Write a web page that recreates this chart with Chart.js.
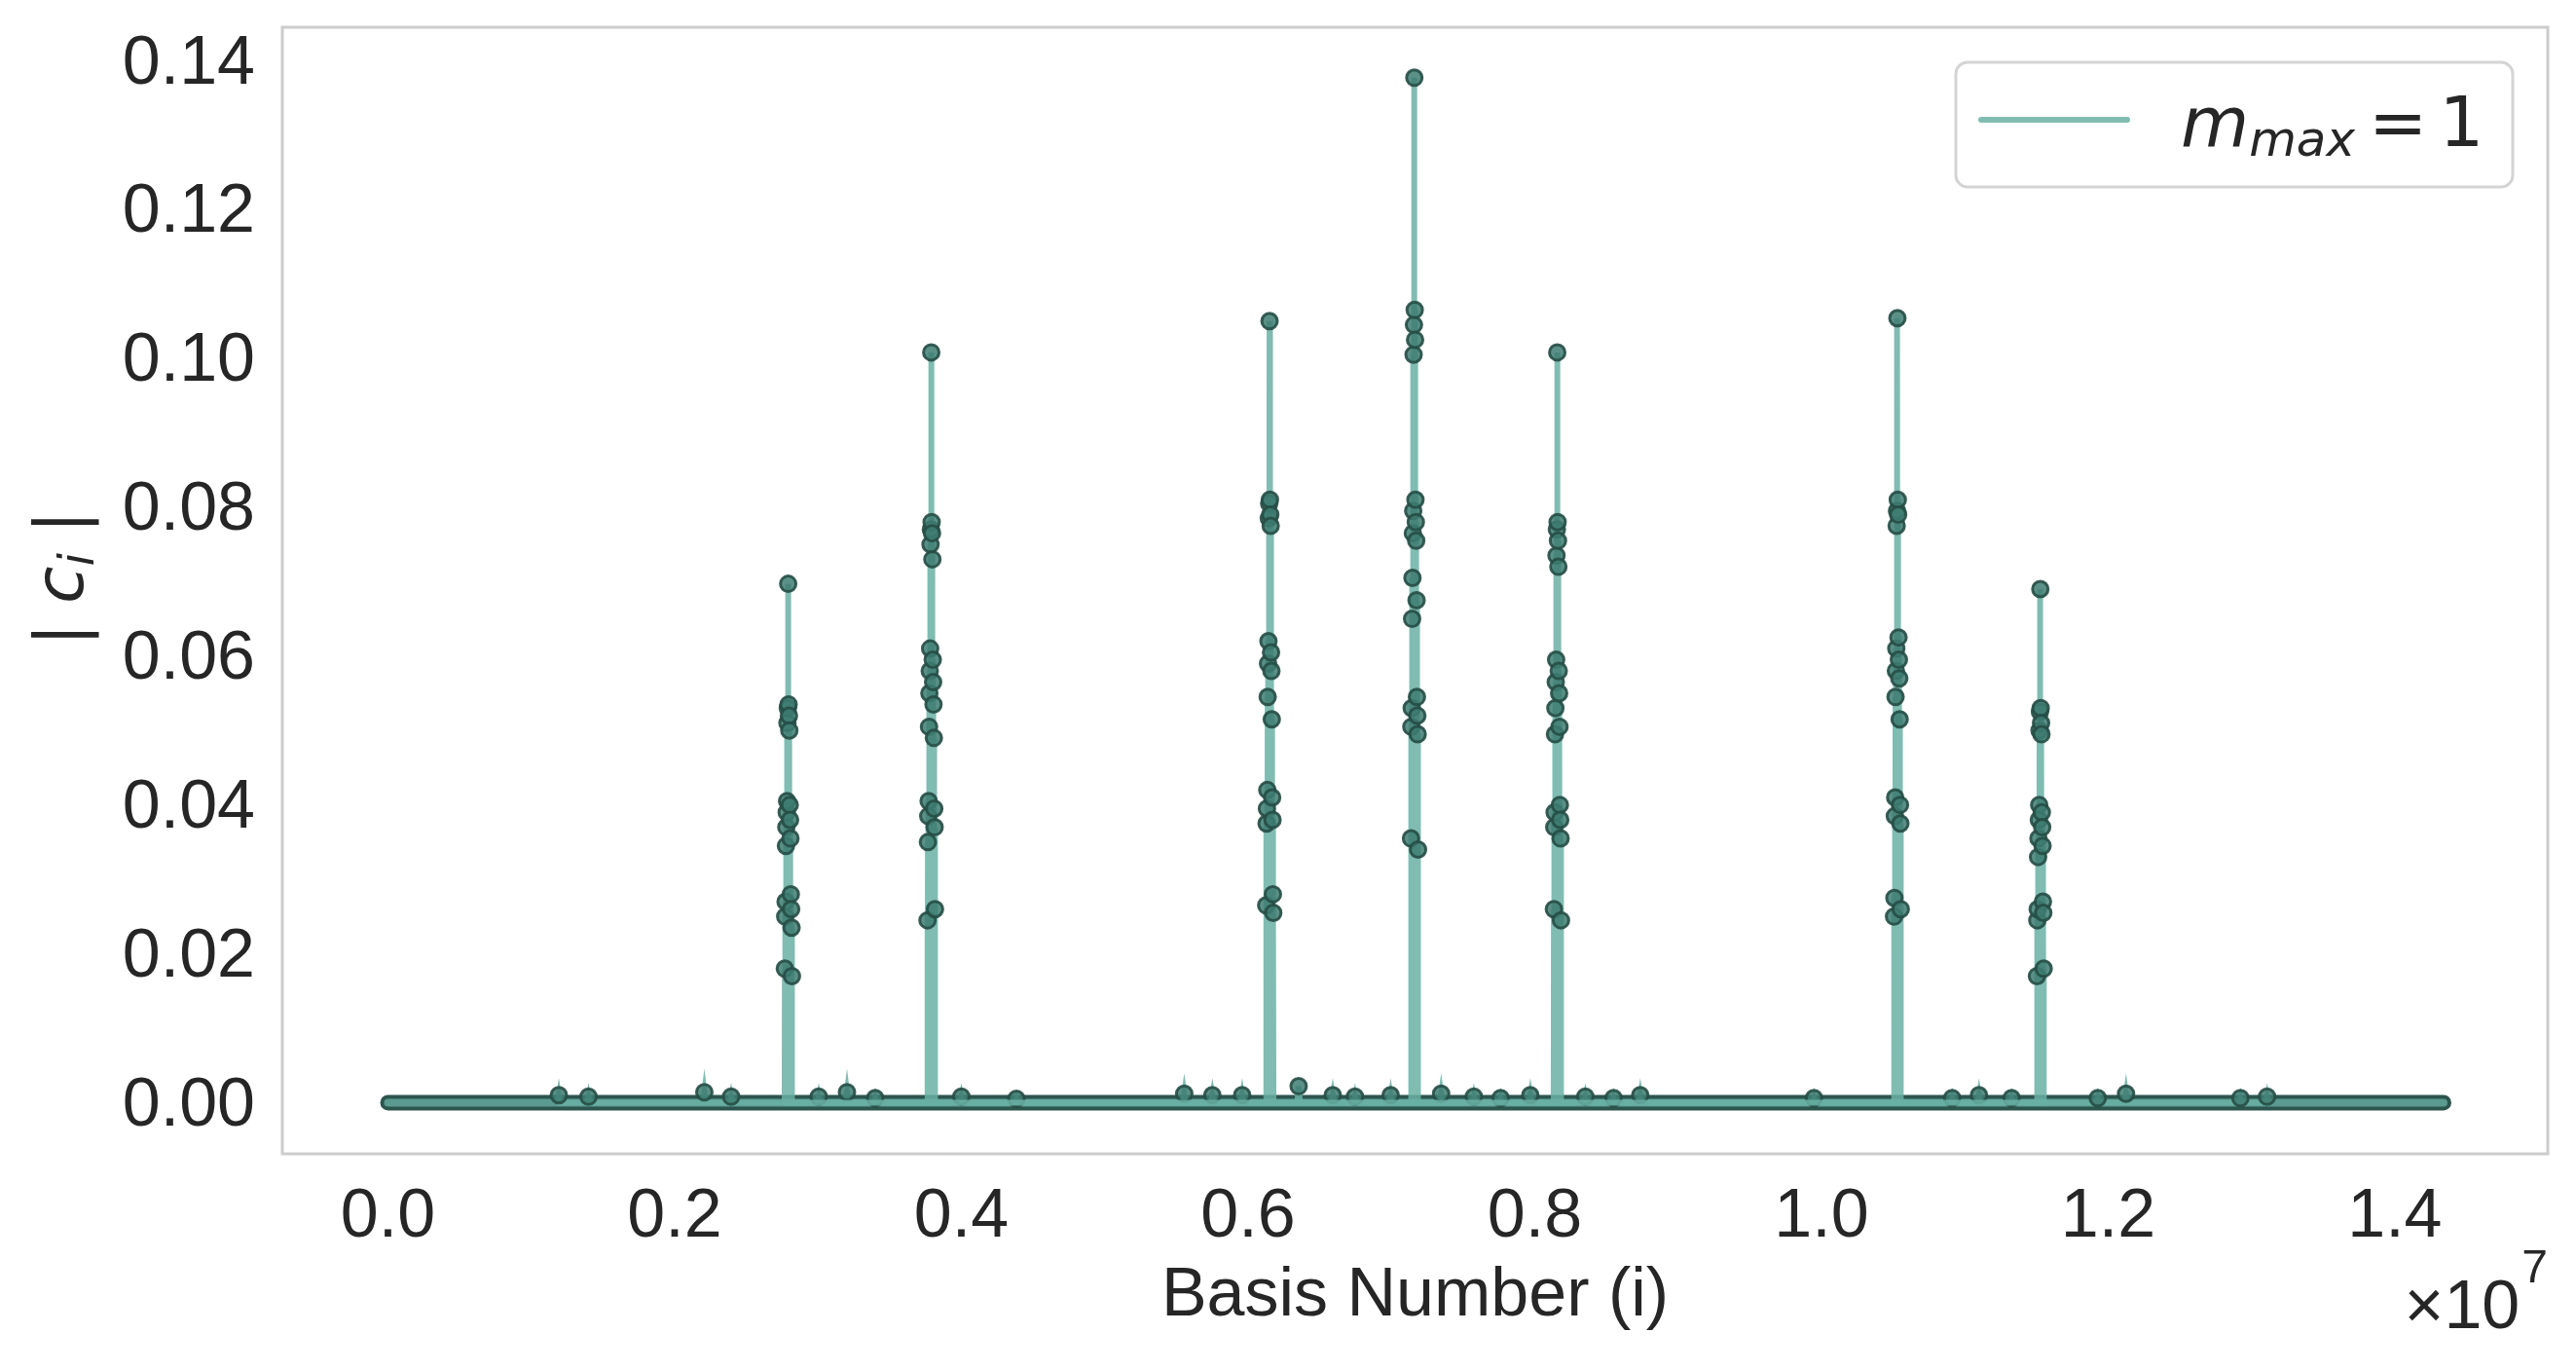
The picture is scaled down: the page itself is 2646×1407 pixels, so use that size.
<!DOCTYPE html>
<html><head><meta charset="utf-8">
<script src="https://cdn.jsdelivr.net/npm/chart.js@4.4.1/dist/chart.umd.min.js"></script>
<style>html,body{margin:0;padding:0;background:#fff;overflow:hidden}</style>
</head><body>
<canvas id="c" width="2646" height="1407" style="width:2646px;height:1407px;display:block"></canvas>
<script>
// ---------------- data ----------------
const X_UNIT = 1e7;                       // offset multiplier shown as ×10^7
const X_TICKS = [0.0, 0.2, 0.4, 0.6, 0.8, 1.0, 1.2, 1.4];
const Y_TICKS = [0.00, 0.02, 0.04, 0.06, 0.08, 0.10, 0.12, 0.14];
const BASIS_RANGE = [0.0, 1.434];         // first / last basis number (×1e7)
const SPIKE_CENTERS = [0.2792, 0.3790, 0.6150, 0.7160, 0.8157, 1.0530, 1.1527]; // ×1e7
const SPIKE_A = [0.0697, 0.0535, 0.0530, 0.0520, 0.0510, 0.0500, 0.0405, 0.0400, 0.0390, 0.0380, 0.0370, 0.0355, 0.0345, 0.0280, 0.0270, 0.0260, 0.0250, 0.0235, 0.0180, 0.0170];
const SPIKE_B = [0.1008, 0.0780, 0.0770, 0.0765, 0.0750, 0.0730, 0.0610, 0.0595, 0.0580, 0.0565, 0.0550, 0.0535, 0.0505, 0.0490, 0.0405, 0.0395, 0.0385, 0.0370, 0.0350, 0.0260, 0.0245];
const SPIKE_C = [0.1050, 0.0810, 0.0805, 0.0790, 0.0785, 0.0775, 0.0620, 0.0605, 0.0590, 0.0580, 0.0545, 0.0515, 0.0420, 0.0410, 0.0395, 0.0380, 0.0375, 0.0280, 0.0265, 0.0255];
const SPIKE_D = [0.1377, 0.1065, 0.1045, 0.1025, 0.1005, 0.0810, 0.0795, 0.0780, 0.0765, 0.0755, 0.0705, 0.0675, 0.0650, 0.0545, 0.0530, 0.0520, 0.0505, 0.0495, 0.0355, 0.0340];
const SPIKE_E = [0.1008, 0.0780, 0.0770, 0.0755, 0.0735, 0.0720, 0.0595, 0.0580, 0.0565, 0.0550, 0.0530, 0.0505, 0.0495, 0.0400, 0.0390, 0.0380, 0.0370, 0.0355, 0.0260, 0.0245];
const SPIKE_F = [0.1054, 0.0810, 0.0795, 0.0790, 0.0775, 0.0625, 0.0610, 0.0595, 0.0580, 0.0570, 0.0545, 0.0515, 0.0410, 0.0400, 0.0385, 0.0375, 0.0275, 0.0260, 0.0250];
const SPIKE_G = [0.0690, 0.0530, 0.0525, 0.0510, 0.0500, 0.0495, 0.0400, 0.0390, 0.0380, 0.0370, 0.0355, 0.0345, 0.0330, 0.0270, 0.0260, 0.0255, 0.0245, 0.0180, 0.0170];
const SPIKES = [SPIKE_A, SPIKE_B, SPIKE_C, SPIKE_D, SPIKE_E, SPIKE_F, SPIKE_G];
const BUMP_X = [0.1192, 0.1399, 0.2207, 0.2394, 0.3005, 0.3202, 0.3399, 0.4000, 0.4384, 0.5555, 0.5751, 0.5959, 0.6353, 0.6591, 0.6746, 0.6995, 0.7347, 0.7575, 0.7762, 0.7969, 0.8353, 0.8550, 0.8736, 0.9948, 1.0912, 1.1099, 1.1327, 1.1928, 1.2125, 1.2923, 1.3109];
const BUMP_Y = [0.0010, 0.0008, 0.0014, 0.0008, 0.0008, 0.0014, 0.0006, 0.0008, 0.0005, 0.0012, 0.0010, 0.0010, 0.0022, 0.0010, 0.0008, 0.0010, 0.0012, 0.0008, 0.0006, 0.0010, 0.0008, 0.0006, 0.0010, 0.0006, 0.0006, 0.0010, 0.0006, 0.0006, 0.0012, 0.0006, 0.0008];
const SERIES_LABEL = 'm_max = 1';

// ---------------- build point lists ----------------
const STEP = 2600; // basis-number spacing of neighbouring coefficients inside a spike
function buildSpikes() {
  const groups = [];
  SPIKES.forEach((amps, s) => {
    const c = SPIKE_CENTERS[s] * X_UNIT;
    const g = [];
    amps.forEach((v, j) => {
      const k = j === 0 ? 0 : (j % 2 ? (j + 1) / 2 : -j / 2);
      g.push({x: c + k * STEP, y: v});
    });
    g.sort((a, b) => a.x - b.x);
    groups.push(g);
  });
  const pts = [];
  groups.forEach(g => {
    g.forEach(p => {
      pts.push({x: p.x - STEP / 2, y: 0});
      pts.push(p);
    });
    pts.push({x: g[g.length - 1].x + STEP / 2, y: 0});
  });
  return pts;
}
function buildBumps() {
  const pts = [];
  BUMP_X.forEach((bx, i) => {
    const x = bx * X_UNIT;
    pts.push({x: x - 9000, y: 0}, {x: x, y: BUMP_Y[i]}, {x: x + 9000, y: 0});
  });
  return pts;
}
const baseline = [{x: BASIS_RANGE[0] * X_UNIT, y: 0}, {x: BASIS_RANGE[1] * X_UNIT, y: 0}];

const LINE_COL = 'rgba(106,176,164,0.85)';
const MK_FILL = 'rgba(62,124,114,0.85)';
const MK_EDGE = 'rgba(38,78,70,0.9)';
const TXT = '#262626';

const decor = {
  id: 'decor',
  afterDatasetsDraw(chart) {
    const ctx = chart.ctx, a = chart.chartArea;
    ctx.save();
    ctx.strokeStyle = '#cccccc'; ctx.lineWidth = 3;
    ctx.strokeRect(a.left, a.top, a.right - a.left, a.bottom - a.top);
    ctx.restore();
  },
  afterDraw(chart) {
    const ctx = chart.ctx, a = chart.chartArea;
    ctx.save();
    ctx.fillStyle = TXT;
    // x title
    ctx.font = '70px "Liberation Sans", Arial, sans-serif';
    ctx.textAlign = 'center'; ctx.textBaseline = 'alphabetic';
    ctx.fillText('Basis Number (i)', (a.left + a.right) / 2, 1351);
    // offset text ×10^7
    ctx.textAlign = 'right';
    ctx.font = '48px "Liberation Sans", Arial, sans-serif';
    ctx.fillText('7', a.right, 1317);
    const w7 = ctx.measureText('7').width;
    ctx.font = '70px "Liberation Sans", Arial, sans-serif';
    ctx.fillText('\u00d710', a.right - w7 - 2, 1364);
    // y title |c_i|
    ctx.translate(85, 594);
    ctx.rotate(-Math.PI / 2);
    ctx.textAlign = 'left';
    const parts = [
      {t: '|', f: '70px "DejaVu Sans"', dy: 0, gap: 20},
      {t: 'c', f: 'italic 70px "DejaVu Sans"', dy: 0, gap: 0},
      {t: 'i', f: 'italic 49px "DejaVu Sans"', dy: 11, gap: 20},
      {t: '|', f: '70px "DejaVu Sans"', dy: 0, gap: 0}
    ];
    let tot = 0;
    parts.forEach(p => { ctx.font = p.f; p.w = ctx.measureText(p.t).width; tot += p.w + p.gap; });
    let x = -tot / 2;
    parts.forEach(p => { ctx.font = p.f; ctx.fillText(p.t, x, p.dy); x += p.w + p.gap; });
    ctx.restore();

    // legend
    ctx.save();
    const L = 2009, T = 64, R = 2581, B = 192, rad = 12;
    ctx.beginPath();
    ctx.roundRect(L, T, R - L, B - T, rad);
    ctx.fillStyle = 'rgba(255,255,255,0.9)'; ctx.fill();
    ctx.strokeStyle = '#d4d4d4'; ctx.lineWidth = 3; ctx.stroke();
    ctx.beginPath();
    ctx.moveTo(2035, 123); ctx.lineTo(2185, 123);
    ctx.strokeStyle = LINE_COL; ctx.lineWidth = 6; ctx.lineCap = 'round'; ctx.stroke();
    ctx.fillStyle = TXT; ctx.textAlign = 'left'; ctx.textBaseline = 'alphabetic';
    const [sym, rest] = SERIES_LABEL.split('_');
    const [sub, val] = rest.split(' = ');
    ctx.font = 'italic 72px "DejaVu Sans"';
    ctx.fillText(sym, 2240, 150);
    let lx = 2240 + ctx.measureText(sym).width;
    ctx.font = 'italic 50px "DejaVu Sans"';
    ctx.fillText(sub, lx, 160);
    lx += ctx.measureText(sub).width + 14;
    ctx.font = '72px "DejaVu Sans"';
    ctx.fillText('=', lx, 150);
    lx += ctx.measureText('=').width + 12;
    ctx.fillText(val, lx, 150);
    ctx.restore();
  }
};

const markerRadius = c => (c.raw && c.raw.y !== 0 ? 8 : 0);

new Chart(document.getElementById('c').getContext('2d'), {
  type: 'scatter',
  data: {
    datasets: [
      {label: SERIES_LABEL, data: buildSpikes(), showLine: true, order: 0,
       borderColor: LINE_COL, borderWidth: 6, tension: 0,
       pointRadius: markerRadius,
       pointBackgroundColor: MK_FILL, pointBorderColor: MK_EDGE, pointBorderWidth: 3},
      {label: 'bumps', data: buildBumps(), showLine: true, order: 1,
       borderColor: LINE_COL, borderWidth: 6,
       pointRadius: markerRadius,
       pointBackgroundColor: MK_FILL, pointBorderColor: MK_EDGE, pointBorderWidth: 3},
      {label: 'base-inner', data: baseline, showLine: true, order: 2,
       borderColor: '#5b9a90', borderWidth: 8, pointRadius: 0, borderCapStyle: 'round'},
      {label: 'base-outer', data: baseline, showLine: true, order: 3,
       borderColor: '#2c554e', borderWidth: 16, pointRadius: 0, borderCapStyle: 'round'}
    ]
  },
  options: {
    responsive: false, animation: false, devicePixelRatio: 1,
    layout: {padding: {top: 28, right: 29, left: 0, bottom: 0}},
    plugins: {legend: {display: false}, tooltip: {enabled: false}},
    scales: {
      x: {
        type: 'linear', min: -0.0737 * X_UNIT, max: 1.5067 * X_UNIT,
        grid: {display: false, drawTicks: false}, border: {display: false},
        afterBuildTicks: s => { s.ticks = X_TICKS.map(v => ({value: v * X_UNIT})); },
        afterFit: s => { s.height = 222; s.paddingLeft = 0; s.paddingRight = 0; },
        ticks: {font: {family: '"Liberation Sans", Arial, sans-serif', size: 70}, color: TXT,
                padding: 24, maxRotation: 0, autoSkip: false,
                callback: v => (v / X_UNIT).toFixed(1)}
      },
      y: {
        type: 'linear', min: -0.00688, max: 0.14448,
        grid: {display: false, drawTicks: false}, border: {display: false},
        afterBuildTicks: s => { s.ticks = Y_TICKS.map(v => ({value: v})); },
        afterFit: s => { s.width = 290; s.paddingTop = 0; s.paddingBottom = 0; },
        ticks: {font: {family: '"Liberation Sans", Arial, sans-serif', size: 70}, color: TXT,
                padding: 28, labelOffset: 4, autoSkip: false, callback: v => v.toFixed(2)}
      }
    }
  },
  plugins: [decor]
});
</script>
</body></html>
